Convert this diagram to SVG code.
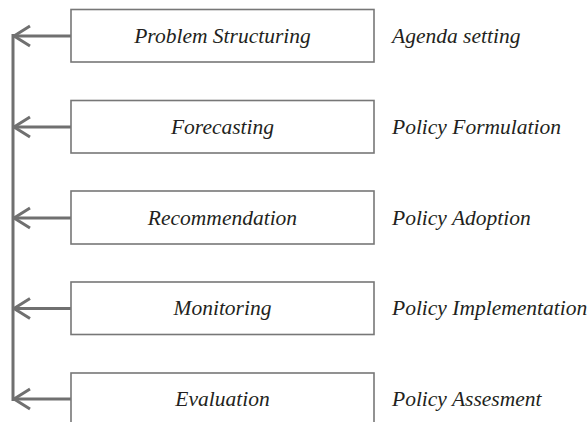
<svg xmlns="http://www.w3.org/2000/svg" width="587" height="422" viewBox="0 0 587 422">
<style>
.box{fill:#fff;stroke:#777;stroke-width:1.6}
.t{font-family:"Liberation Serif",serif;font-style:italic;font-size:21.5px;fill:#231f20}
.c{text-anchor:middle}
.con{stroke:#707070;stroke-width:3;fill:none}
</style>
<defs>
<marker id="ah" viewBox="0 0 20 24" refX="18" refY="12" markerWidth="20" markerHeight="24" markerUnits="userSpaceOnUse" orient="auto">
<path d="M2,2 L18,12 L2,22" fill="none" stroke="#707070" stroke-width="3"/>
</marker>
</defs>
<rect width="587" height="422" fill="#fff"/>
<g id="connectors">
<line class="con" x1="13" y1="34" x2="13" y2="401"/>
<line class="con" x1="71" y1="36" x2="14" y2="36" marker-end="url(#ah)"/>
<line class="con" x1="71" y1="127" x2="14" y2="127" marker-end="url(#ah)"/>
<line class="con" x1="71" y1="218" x2="14" y2="218" marker-end="url(#ah)"/>
<line class="con" x1="71" y1="308.5" x2="14" y2="308.5" marker-end="url(#ah)"/>
<line class="con" x1="71" y1="399" x2="14" y2="399" marker-end="url(#ah)"/>
</g>
<g id="n1"><rect class="box" x="71" y="9.5" width="303" height="52.5"/><text class="t c" x="222.5" y="42.5">Problem Structuring</text></g>
<g id="n2"><rect class="box" x="71" y="100.5" width="303" height="52.5"/><text class="t c" x="222.5" y="133.5">Forecasting</text></g>
<g id="n3"><rect class="box" x="71" y="191" width="303" height="53"/><text class="t c" x="222.5" y="224.5">Recommendation</text></g>
<g id="n4"><rect class="box" x="71" y="282" width="303" height="52.5"/><text class="t c" x="222.5" y="315">Monitoring</text></g>
<g id="n5"><rect class="box" x="71" y="373" width="303" height="60"/><text class="t c" x="222.5" y="405.5">Evaluation</text></g>
<g id="l1"><text class="t" x="392" y="42.5">Agenda setting</text></g>
<g id="l2"><text class="t" x="392" y="133.5">Policy Formulation</text></g>
<g id="l3"><text class="t" x="392" y="224.5">Policy Adoption</text></g>
<g id="l4"><text class="t" x="392" y="315">Policy Implementation</text></g>
<g id="l5"><text class="t" x="392" y="405.5">Policy Assesment</text></g>
</svg>
